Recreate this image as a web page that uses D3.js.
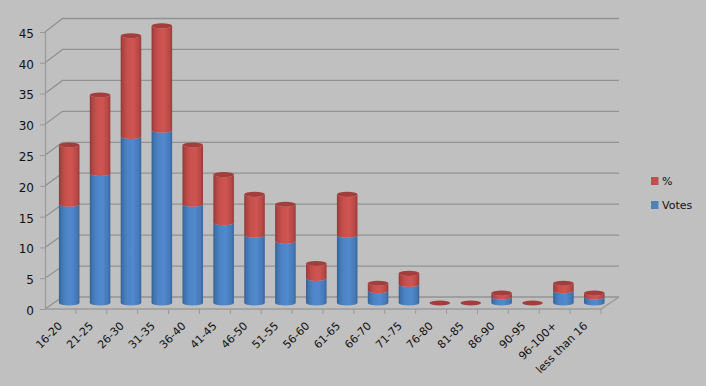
<!DOCTYPE html>
<html>
<head>
<meta charset="utf-8">
<script src="https://cdnjs.cloudflare.com/ajax/libs/d3/7.8.5/d3.min.js"></script>
<style>
  html, body { margin: 0; padding: 0; background: #c0c0c0; overflow: hidden; }
  text { font-family: "DejaVu Sans", sans-serif; fill: #111; }
</style>
</head>
<body>
<div id="chart"></div>
<script>
const categories = ["16-20", "21-25", "26-30", "31-35", "36-40", "41-45", "46-50", "51-55", "56-60",
  "61-65", "66-70", "71-75", "76-80", "81-85", "86-90", "90-95", "96-100+", "less than 16"];
const votes = [16, 21, 27, 28, 16, 13, 11, 10, 4, 11, 2, 3, 0, 0, 1, 0, 2, 1];
const percent = [9.6, 12.7, 16.3, 16.9, 9.6, 7.8, 6.6, 6.0, 2.4, 6.6, 1.2, 1.8, 0, 0, 0.6, 0, 1.2, 0.6];
const yTicks = [0, 5, 10, 15, 20, 25, 30, 35, 40, 45];

const width = 706, height = 386;
const svg = d3.select("#chart").append("svg")
  .attr("width", width)
  .attr("height", height)
  .style("display", "block");

// front plane and back wall of the fake 3d box
const x = d3.scaleBand().domain(categories).range([45, 601]);
const y = d3.scaleLinear().domain([0, 45]).range([309, 32]);
const yBack = d3.scaleLinear().domain([0, 45]).range([297, 18.5]);
const yMid = v => (y(v) + yBack(v)) / 2;
const depthX = 17.5;
const backLeft = x.range()[0] + depthX, backRight = x.range()[1] + 18;

const defs = svg.append("defs");
function cylGradient(id, stops) {
  const g = defs.append("linearGradient").attr("id", id);
  stops.forEach(s => g.append("stop").attr("offset", s[0]).attr("stop-color", s[1]));
}
cylGradient("blueCyl", [[0, "#33608f"], [0.1, "#3f72ae"], [0.3, "#4c83c4"], [0.6, "#5089cd"], [0.88, "#4679b6"], [1, "#38659c"]]);
cylGradient("redCyl", [[0, "#8f3634"], [0.1, "#ad4341"], [0.3, "#c64f4c"], [0.6, "#d05552"], [0.88, "#b64845"], [1, "#983a38"]]);

const gridColor = "#929292";

// grid lines: front-left diagonal plus the back wall line
const grid = svg.append("g");
grid.selectAll(".grid")
  .data(yTicks)
  .join("path")
  .attr("fill", "none")
  .attr("stroke", gridColor)
  .attr("stroke-width", 1.3)
  .attr("d", d => `M${x.range()[0]},${y(d)}L${backLeft},${yBack(d)}L${backRight},${yBack(d)}`);

// floor
grid.append("path")
  .attr("fill", "none")
  .attr("stroke", "#9a9a9a")
  .attr("stroke-width", 1.5)
  .attr("d", `M${x.range()[0]},${y(0)}L${x.range()[1]},${y(0)}L${backRight},${yBack(0)}`);

// y axis
const yAxis = svg.append("g")
  .attr("transform", `translate(${x.range()[0]},0)`)
  .call(d3.axisLeft(y).tickValues(yTicks).tickSize(5).tickPadding(6));
yAxis.select(".domain").attr("stroke", "#999").attr("stroke-width", 1.2);
yAxis.selectAll(".tick line").attr("stroke", "#999");
yAxis.selectAll("text").attr("dy", "0.45em").style("font-size", "12px");

// x axis
const xAxis = svg.append("g")
  .attr("transform", `translate(0,${y(0)})`)
  .call(d3.axisBottom(x).tickSize(5));
xAxis.select(".domain").remove();
xAxis.selectAll(".tick line")
  .attr("stroke", "#999")
  .attr("transform", `translate(${x.bandwidth() / 2},0)`);
xAxis.selectAll("text")
  .attr("text-anchor", "end")
  .attr("transform", "translate(-7,8) rotate(-45)")
  .attr("dy", "0.5em")
  .style("font-size", "11px");

// cylinders
const barWidth = x.bandwidth() * 0.665;
const rx = barWidth / 2, ry = 2.6;
const cx = d => x(d) + x.bandwidth() / 2 + depthX / 2;

function cylinder(x0, yTop, yBottom) {
  return `M${x0 - rx},${yTop}L${x0 - rx},${yBottom}A${rx},${ry} 0 0 0 ${x0 + rx},${yBottom}L${x0 + rx},${yTop}A${rx},${ry} 0 0 1 ${x0 - rx},${yTop}Z`;
}

const rows = categories.map((c, i) => ({ c, votes: votes[i], pct: percent[i] }));
const bars = svg.append("g").selectAll("g").data(rows).join("g");

bars.filter(d => d.votes > 0).append("path")
  .attr("fill", "url(#blueCyl)")
  .attr("d", d => cylinder(cx(d.c), yMid(d.votes), yMid(0)));

bars.filter(d => d.pct > 0).append("path")
  .attr("fill", "url(#redCyl)")
  .attr("d", d => cylinder(cx(d.c), yMid(d.votes + d.pct), yMid(d.votes)));

// red cap, also the only thing showing for the empty categories
bars.append("ellipse")
  .attr("cx", d => cx(d.c))
  .attr("cy", d => yMid(d.votes + d.pct))
  .attr("rx", rx)
  .attr("ry", ry)
  .attr("fill", "#a33e3c");

// legend
const legendItems = [
  { label: "%", color: "#c0504d", y: 181 },
  { label: "Votes", color: "#4f81bd", y: 205 }
];
const legend = svg.append("g").selectAll("g").data(legendItems).join("g");
legend.append("rect")
  .attr("x", 651)
  .attr("y", d => d.y - 4)
  .attr("width", 7.5)
  .attr("height", 8)
  .attr("fill", d => d.color);
legend.append("text")
  .attr("x", 662)
  .attr("y", d => d.y)
  .attr("dy", "0.35em")
  .style("font-size", "11px")
  .text(d => d.label);
</script>
</body>
</html>
